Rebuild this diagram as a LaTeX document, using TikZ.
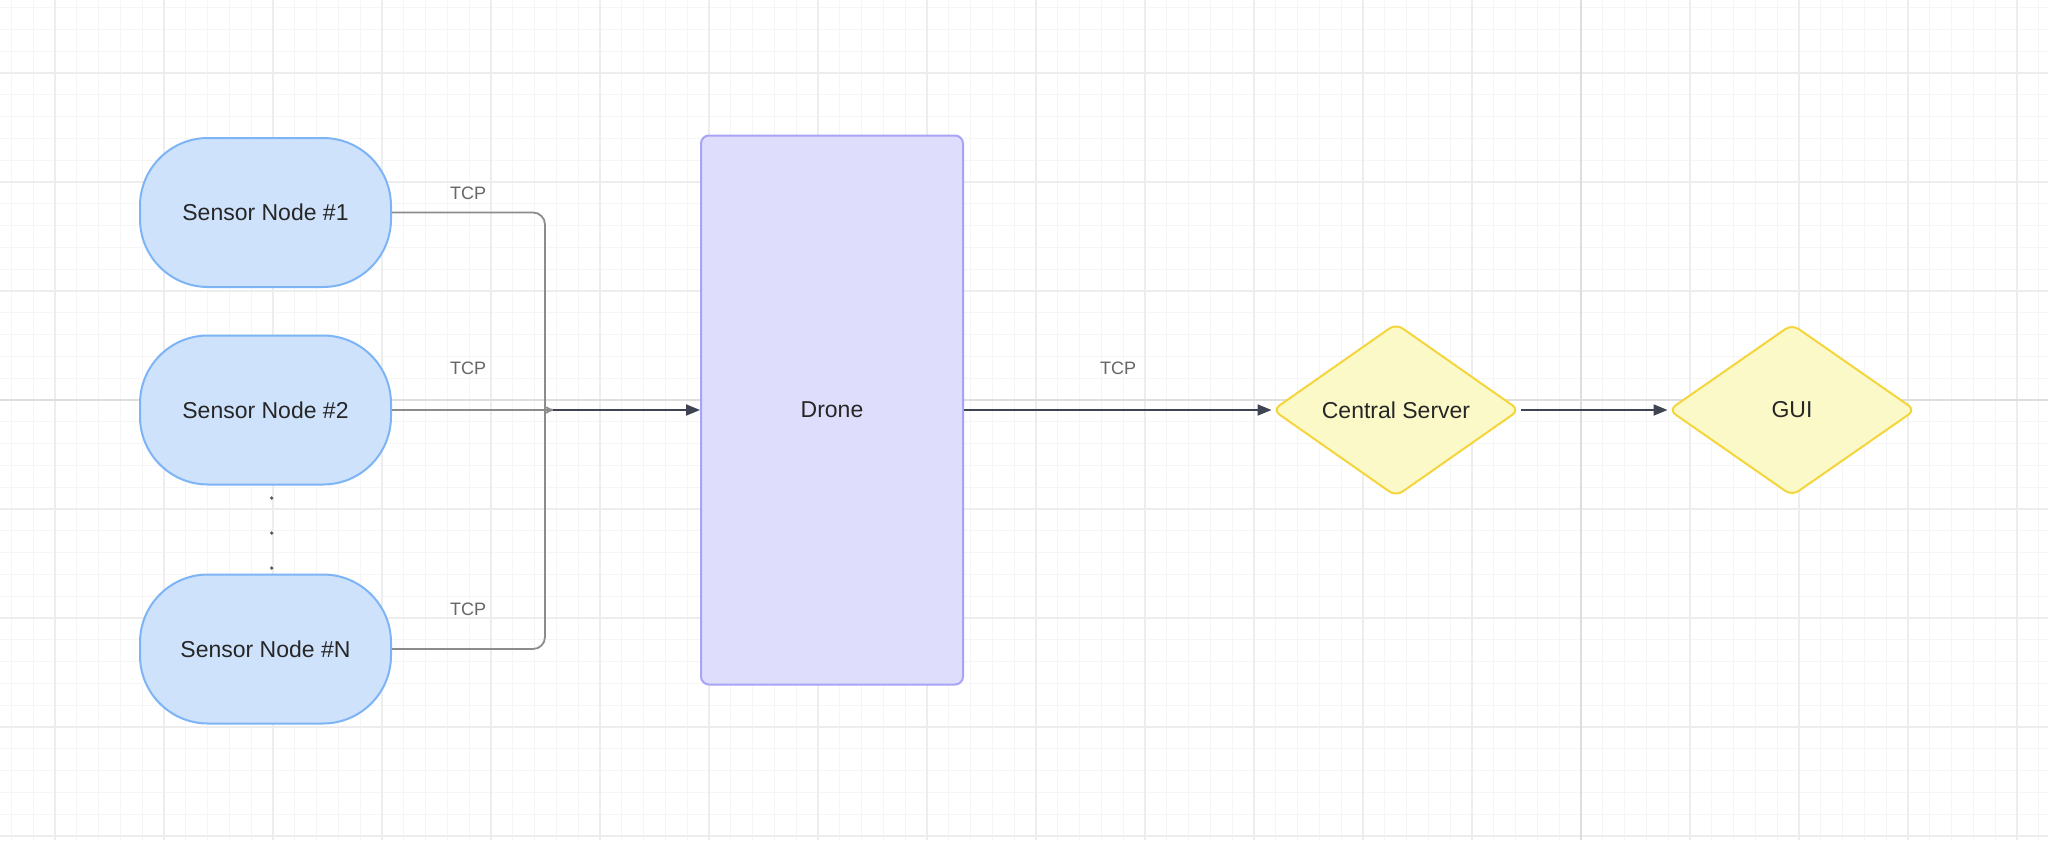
\documentclass[tikz,border=0pt]{standalone}
\usepackage{fontspec}
\setmainfont{Liberation Sans}
\usepackage{tikz}
\usetikzlibrary{shapes.geometric}
\usetikzlibrary{arrows.meta}

\definecolor{sensorfill}{HTML}{CFE2FC}
\definecolor{sensorline}{HTML}{7DB4F6}
\definecolor{dronefill}{HTML}{DEDEFC}
\definecolor{droneline}{HTML}{A9A3F6}
\definecolor{serverfill}{HTML}{FBF9C8}
\definecolor{serverline}{HTML}{F5D53C}
\definecolor{nodetext}{HTML}{262626}
\definecolor{linkgray}{HTML}{8C8C8C}
\definecolor{flowdark}{HTML}{3E4452}

\begin{document}
\begin{tikzpicture}[x=0.5pt, y=-0.5pt,
	finegrid/.style={draw=black!4, line width=0.6pt},
	midgrid/.style={draw=black!7, line width=0.6pt},
	axisgrid/.style={draw=black!13, line width=0.6pt},
	sensor/.style={draw=sensorline, fill=sensorfill, line width=1pt, rounded corners=34pt, minimum width=125.5pt, minimum height=74.5pt, text=nodetext, font=\fontsize{11.5}{14}\selectfont},
	drone/.style={draw=droneline, fill=dronefill, line width=1pt, rounded corners=4pt, minimum width=131pt, minimum height=274.5pt, text=nodetext, font=\fontsize{11.5}{14}\selectfont},
	server/.style={diamond, draw=serverline, fill=serverfill, line width=1pt, rounded corners=4pt, minimum width=123.5pt, minimum height=86pt, inner sep=1pt, text=nodetext, font=\fontsize{11.5}{14}\selectfont},
	tcp/.style={text=black!60, font=\fontsize{9}{11}\selectfont},
	link/.style={draw=linkgray, line width=0.9pt},
	flow/.style={draw=flowdark, line width=0.9pt, -{Triangle[length=7pt,width=5.5pt]}}]
	\useasboundingbox (0,0) rectangle (2048,840);
	\fill[white] (0,0) rectangle (2048,840);
	\foreach \i in {-72,...,21}
	\draw[finegrid] (1581+21.8*\i,0) -- (1581+21.8*\i,840);
	\foreach \j in {-18,...,20}
	\draw[finegrid] (0,400+21.8*\j) -- (2048,400+21.8*\j);
	\foreach \i in {-70,-65,...,20}
	\draw[midgrid] (1581+21.8*\i,0) -- (1581+21.8*\i,840);
	\foreach \j in {-15,-10,...,20}
	\draw[midgrid] (0,400+21.8*\j) -- (2048,400+21.8*\j);
	\draw[axisgrid] (1581,0) -- (1581,840);
	\draw[axisgrid] (0,400) -- (2048,400);

	\node[sensor] (s1) at (265.5,212.5) {Sensor Node \#1};
	\node[sensor] (s2) at (265.5,410) {Sensor Node \#2};
	\node[sensor] (sN) at (265.5,649) {Sensor Node \#N};
	\foreach \y in {498,533,568}
	\fill[black!65] (271.7,\y) circle (0.9pt);
	\node[drone] (drone) at (832,410) {Drone};
	\node[server] (cs) at (1396,410) {Central Server};
	\node[server] (gui) at (1792,410) {GUI};

	\coordinate (jn) at (553,410);
	\coordinate (b1) at (545,398);
	\coordinate (bN) at (545,422);
	\draw[link, rounded corners=6pt] (s1.east) -| (b1) to[out=-90, in=180] (jn);
	\draw[link, rounded corners=6pt] (sN.east) -| (bN) to[out=90, in=180] (jn);
	\draw[link] (s2.east) -- (jn);
	\draw[flow] (jn) -- (drone.west);
	\draw[flow] (drone.east) -- (cs.west);
	\draw[flow] (cs.east) -- (gui.west);

	\node[tcp] (tcp1) at (468,193) {TCP};
	\node[tcp] (tcp2) at (468,368.5) {TCP};
	\node[tcp] (tcpN) at (468,609) {TCP};
	\node[tcp] (tcp3) at (1118,368.5) {TCP};
\end{tikzpicture}
\end{document}
